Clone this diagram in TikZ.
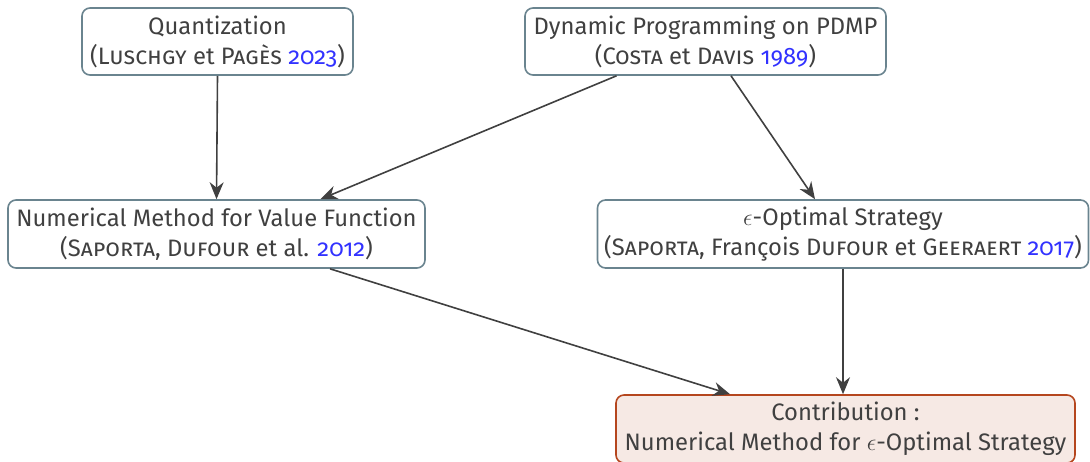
\documentclass[tikz,border=0pt]{standalone}
\usepackage{fontspec}
\setmainfont{Fira Sans}[Numbers=OldStyle]
\usetikzlibrary{calc,arrows.meta}
\definecolor{boxborder}{RGB}{106,132,143}
\definecolor{txt}{RGB}{64,64,64}
\definecolor{linecol}{RGB}{64,64,64}
\definecolor{yearblue}{RGB}{50,50,255}
\definecolor{contribborder}{RGB}{181,70,30}
\definecolor{contribfill}{RGB}{246,233,228}
\newcommand{\yr}[1]{\textcolor{yearblue}{#1}}
\tikzset{
  refbox/.style={draw=boxborder, line width=0.8pt, rounded corners=4pt, fill=white,
    align=center, text=txt, inner sep=0pt, font=\fontsize{11.9}{15}\selectfont},
  contribbox/.style={refbox, draw=contribborder, fill=contribfill},
  arr/.style={draw=linecol, line width=0.8pt, -{Stealth[length=8.5pt,width=7pt]}}
}
\begin{document}
\begin{tikzpicture}[x=0.5pt,y=-0.5pt]
\useasboundingbox (0,0) rectangle (1090,461);
\node[refbox, minimum width=135.5pt, minimum height=33.5pt] (q) at (217.5,41.5)
  {Quantization\\(\textsc{Luschgy} et \textsc{Pagès} \yr{2023})};
\node[refbox, minimum width=180.5pt, minimum height=33.5pt] (dp) at (705.5,41.5)
  {Dynamic Programming on PDMP\\(\textsc{Costa} et \textsc{Davis} \yr{1989})};
\node[refbox, minimum width=208.5pt, minimum height=34pt] (nm) at (216.5,234)
  {Numerical Method for Value Function\\(\textsc{Saporta}, \textsc{Dufour} et al. \yr{2012})};
\node[refbox, minimum width=245.5pt, minimum height=34pt] (eo) at (843,234)
  {$\epsilon$-Optimal Strategy\\(\textsc{Saporta}, François \textsc{Dufour} et \textsc{Geeraert} \yr{2017})};
\node[contribbox, minimum width=229.5pt, minimum height=34pt] (c) at (845.5,429)
  {Contribution :\\Numerical Method for $\epsilon$-Optimal Strategy};
\draw[arr] (q.south) -- (nm.north);
\draw[arr] ($(dp.south)+(-89,0)$) -- ($(nm.north)+(104,0)$);
\draw[arr] ($(dp.south)+(25.5,0)$) -- ($(eo.north)+(-28,0)$);
\draw[arr] ($(nm.south)+(113.5,0)$) -- ($(c.north)+(-115.5,0)$);
\draw[arr] (eo.south) -- (eo.south |- c.north);
\end{tikzpicture}
\end{document}
